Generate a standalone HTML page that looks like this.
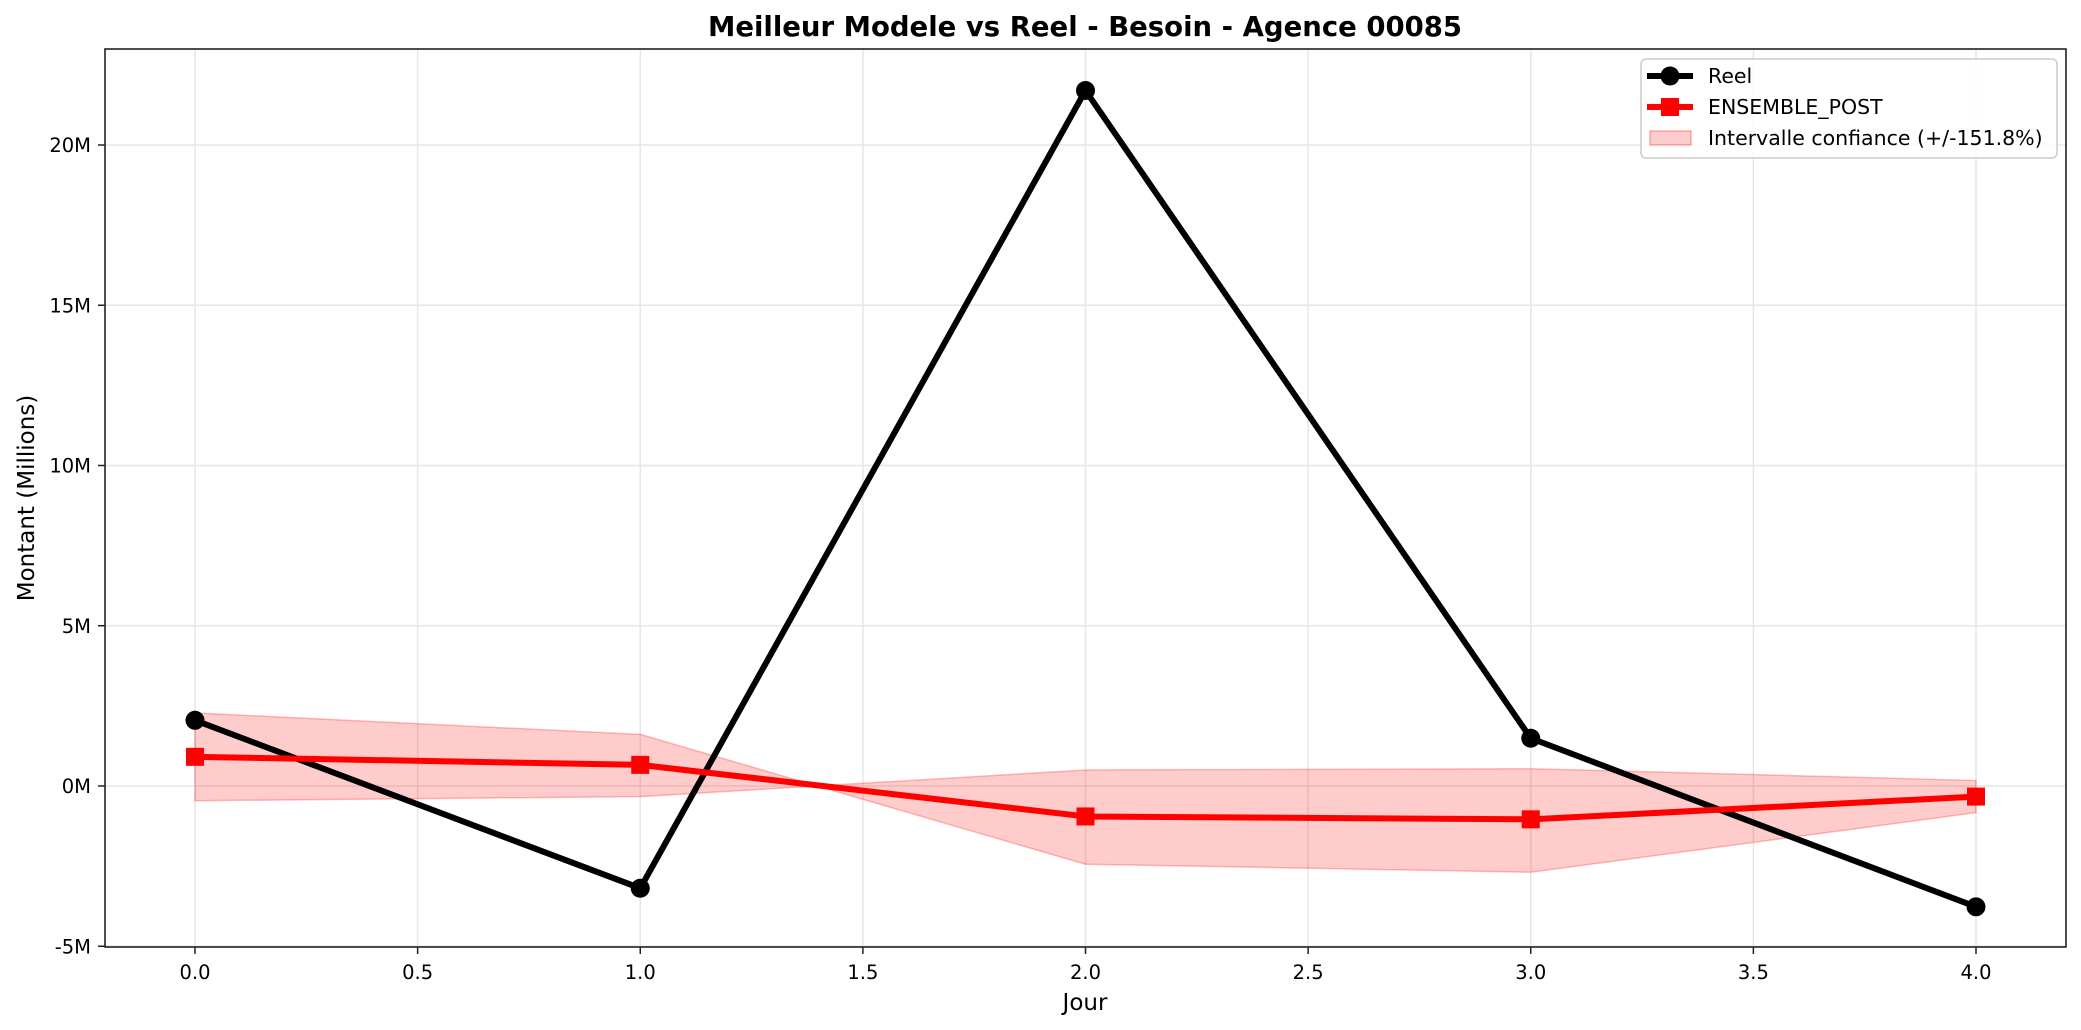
<!DOCTYPE html>
<html><head><meta charset="utf-8"><style>
body{margin:0;background:#fff;}
svg{display:block;font-family:"DejaVu Sans","Liberation Sans",sans-serif;}
</style></head><body>
<svg id="chart" width="2081" height="1030" viewBox="0 0 2081 1030">
<g id="grid"></g>
<g id="band"></g>
<g id="series"></g>
<rect x="105" y="49" width="1961" height="898" fill="none" stroke="#222" stroke-width="1.6"/>
<g id="ticks"></g>
<text x="1085" y="36" text-anchor="middle" font-size="27.5" font-weight="bold">Meilleur Modele vs Reel - Besoin - Agence 00085</text>
<text x="1085" y="1010" text-anchor="middle" font-size="23">Jour</text>
<text transform="translate(34,498) rotate(-90)" text-anchor="middle" font-size="23">Montant (Millions)</text>
<g>
<rect x="1641" y="59" width="416" height="99" rx="5" fill="#fff" fill-opacity="0.8" stroke="#ccc" stroke-width="1.5"/>
<g><line x1="1647" y1="76" x2="1693" y2="76" stroke="#000" stroke-width="6"/><circle cx="1670" cy="76" r="9.5" fill="#000"/><text x="1708" y="83" font-size="20.5">Reel</text></g>
<g><line x1="1647" y1="107" x2="1693" y2="107" stroke="red" stroke-width="6"/><rect x="1661" y="98" width="18" height="18" fill="red"/><text x="1708" y="114" font-size="20.5">ENSEMBLE_POST</text></g>
<g><rect x="1650" y="131" width="41" height="14" fill="rgba(255,0,0,0.2)" stroke="rgba(255,0,0,0.3)" stroke-width="1.5"/><text x="1708" y="145" font-size="20.5">Intervalle confiance (+/-151.8%)</text></g>
</g>
</svg>
<script>
const days=[0,1,2,3,4];
const reel=[2.05,-3.19,21.7,1.49,-3.77];
const ensemble=[0.91,0.66,-0.95,-1.04,-0.33];
const bandUpper=[2.28,1.61,-2.44,-2.69,-0.83];
const bandLower=[-0.46,-0.33,0.5,0.54,0.17];
const xTicks=[0,0.5,1,1.5,2,2.5,3,3.5,4];
const xTickLabels=["0.0","0.5","1.0","1.5","2.0","2.5","3.0","3.5","4.0"];
const yTicks=[-5,0,5,10,15,20];
const yTickLabels=["-5M","0M","5M","10M","15M","20M"];
const NS="http://www.w3.org/2000/svg";
function X(v){return 195+v*(1976-195)/4;}
function Y(v){return 786-v*(786-145)/20;}
function mk(tag,attrs,parent){const e=document.createElementNS(NS,tag);for(const k in attrs)e.setAttribute(k,attrs[k]);parent.appendChild(e);return e;}
const grid=document.getElementById('grid'),ticks=document.getElementById('ticks'),band=document.getElementById('band'),series=document.getElementById('series');
xTicks.forEach((t,i)=>{
 const g=mk('line',{x1:X(t),x2:X(t),y1:49,y2:947,stroke:'#e6e6e6','stroke-width':1.5},grid);
 
 
 const tk=mk('line',{x1:X(t),x2:X(t),y1:947,y2:954,stroke:'#222','stroke-width':1.5},ticks);
 
 
 const tl=mk('text',{x:X(t),y:979,'text-anchor':'middle','font-size':19.5},ticks);
 tl.textContent=xTickLabels[i];
 
 
});
yTicks.forEach((t,i)=>{
 const g=mk('line',{x1:105,x2:2066,y1:Y(t),y2:Y(t),stroke:'#e6e6e6','stroke-width':1.5},grid);
 
 
 const tk=mk('line',{x1:98,x2:105,y1:Y(t),y2:Y(t),stroke:'#222','stroke-width':1.5},ticks);
 
 
 const tl=mk('text',{x:91,y:Y(t)+7,'text-anchor':'end','font-size':19.5},ticks);
 tl.textContent=yTickLabels[i];
 
 
});
let pts=days.map((d,i)=>X(d)+','+Y(bandUpper[i]));
pts=pts.concat(days.slice().reverse().map((d,j)=>{const i=days.length-1-j;return X(d)+','+Y(bandLower[i]);}));
const poly=mk('polygon',{points:pts.join(' '),fill:'rgba(255,0,0,0.2)','fill-rule':'nonzero',stroke:'rgba(255,0,0,0.25)','stroke-width':1.5},band);


const lr=mk('polyline',{points:days.map((d,i)=>X(d)+','+Y(reel[i])).join(' '),fill:'none',stroke:'#000','stroke-width':6,'stroke-linejoin':'round'},series);


const le=mk('polyline',{points:days.map((d,i)=>X(d)+','+Y(ensemble[i])).join(' '),fill:'none',stroke:'red','stroke-width':6,'stroke-linejoin':'round'},series);


days.forEach((d,i)=>{
 const c=mk('circle',{cx:X(d),cy:Y(reel[i]),r:9.5,fill:'#000'},series);
 
 
 const s=mk('rect',{x:X(d)-9,y:Y(ensemble[i])-9,width:18,height:18,fill:'red'},series);
 
 
});
</script>
</body></html>
